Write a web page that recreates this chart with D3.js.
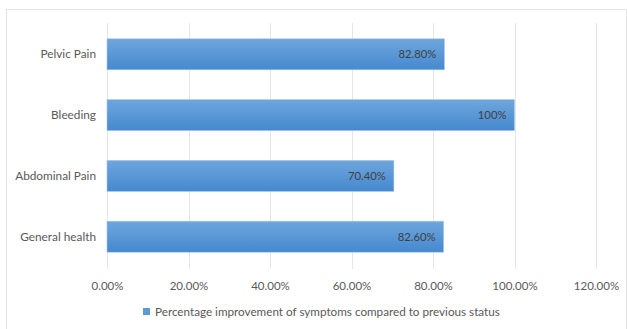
<!DOCTYPE html>
<html>
<head>
<meta charset="utf-8">
<script src="https://cdn.jsdelivr.net/npm/d3@7"></script>
<style>
  body { margin: 0; background: #fff; }
  text { font-family: Lato, "Open Sans", sans-serif; }
</style>
</head>
<body>
<div id="chart"></div>
<script>
// Data.
const categories = ["Pelvic Pain", "Bleeding", "Abdominal Pain", "General health"];
const values = [82.8, 100, 70.4, 82.6];
const valueLabels = ["82.80%", "100%", "70.40%", "82.60%"];
const xTicks = [0, 20, 40, 60, 80, 100, 120];
const seriesName = "Percentage improvement of symptoms compared to previous status";

let W = 627, H = 329;
let margin = {top: 23, right: 31, bottom: 61, left: 107},
    width = W - margin.left - margin.right,
    height = H - margin.top - margin.bottom;

let root = d3.select("#chart").append("svg")
    .attr("width", W)
    .attr("height", H);

// Outer chart border.
root.append("rect")
    .attr("x", 6.5).attr("y", 9.5)
    .attr("width", 620).attr("height", 330)
    .attr("fill", "none")
    .attr("stroke", "#e3e3e3");

let defs = root.append("defs");
let grad = defs.append("linearGradient")
    .attr("id", "barGrad")
    .attr("x1", 0).attr("y1", 0).attr("x2", 0).attr("y2", 1);
grad.append("stop").attr("offset", "0%").attr("stop-color", "#6ea6dd");
grad.append("stop").attr("offset", "100%").attr("stop-color", "#4589cf");

let svg = root.append("g")
    .attr("transform", `translate(${margin.left},${margin.top})`);

let x = d3.scaleLinear()
    .domain([0, 120])
    .range([0, 489]);

let y = d3.scaleBand()
    .domain(categories)
    .range([0, height])
    .paddingInner(0.49)
    .paddingOuter(0.26);

// Vertical gridlines.
svg.append("g")
    .selectAll("line")
    .data(xTicks)
    .join("line")
    .attr("x1", d => Math.round(x(d)) + 0.5)
    .attr("x2", d => Math.round(x(d)) + 0.5)
    .attr("y1", 0)
    .attr("y2", height + 1)
    .attr("stroke", "#e6e6e6");

// Bars.
svg.append("g")
    .selectAll("rect")
    .data(categories)
    .join("rect")
    .attr("x", x(0))
    .attr("y", d => y(d))
    .attr("width", (d, i) => x(values[i]) - x(0))
    .attr("height", y.bandwidth())
    .attr("fill", "url(#barGrad)")
    .attr("stroke", "#a9c6e8")
    .attr("stroke-width", 0.6);

// Value labels inside bar ends.
svg.append("g")
    .selectAll("text")
    .data(categories)
    .join("text")
    .attr("x", (d, i) => x(values[i]) - 8)
    .attr("y", d => y(d) + y.bandwidth() / 2)
    .attr("dy", "0.35em")
    .attr("text-anchor", "end")
    .attr("font-size", 11.3)
    .attr("fill", "#404040")
    .text((d, i) => valueLabels[i]);

// Category axis labels.
svg.append("g")
    .selectAll("text")
    .data(categories)
    .join("text")
    .attr("x", -11)
    .attr("y", d => y(d) + y.bandwidth() / 2)
    .attr("dy", "0.35em")
    .attr("text-anchor", "end")
    .attr("font-size", 11.8)
    .attr("fill", "#595959")
    .text(d => d);

// X axis tick labels.
let xAxis = svg.append("g")
    .attr("transform", `translate(0,${height})`)
    .call(d3.axisBottom(x).tickValues(xTicks).tickSize(0).tickPadding(14)
      .tickFormat(d => d.toFixed(2) + "%"));
xAxis.select(".domain").remove();
xAxis.selectAll("text")
    .attr("font-size", 11.5)
    .attr("font-family", "Lato, sans-serif")
    .attr("fill", "#595959");

// Legend.
let legend = root.append("g")
    .attr("transform", "translate(143,308)");
legend.append("rect")
    .attr("width", 7).attr("height", 7)
    .attr("fill", "#5b9bd5");
legend.append("text")
    .attr("x", 12)
    .attr("y", 4)
    .attr("dy", "0.35em")
    .attr("font-size", 11.7)
    .attr("fill", "#595959")
    .text(seriesName);
</script>
</body>
</html>
